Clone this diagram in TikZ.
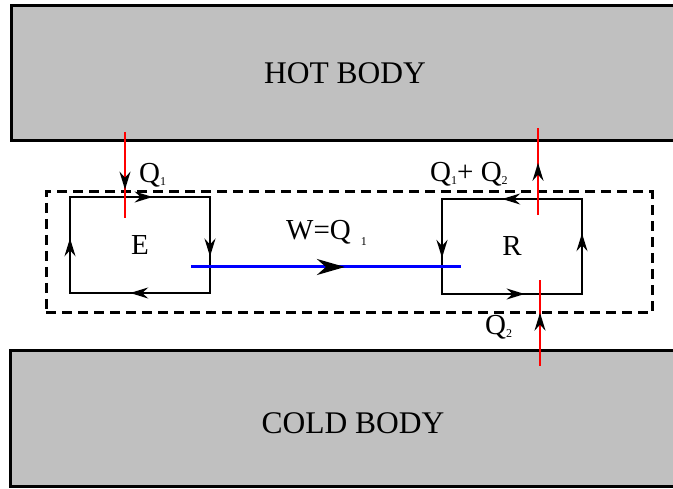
\documentclass[tikz,border=0pt]{standalone}
\usepackage{fontspec}
\setmainfont{Liberation Serif}
\usetikzlibrary{arrows.meta,decorations.markings}
\definecolor{BodyGray}{HTML}{C0C0C0}
\definecolor{HeatRed}{HTML}{FF0000}
\definecolor{WorkBlue}{HTML}{0000FF}
\newcommand{\lowidx}[2][3pt]{\raisebox{-#1}{\fontsize{12}{12}\selectfont #2}}
\tikzset{
  cyclehead/.tip={Stealth[length=18pt,width=11pt,inset=6pt]},
  workhead/.tip={Stealth[length=28pt,width=16pt,inset=9pt]},
  tipat/.style args={#1 with #2}{
    postaction={decorate},
    decoration={markings,mark=at position #1 with {\arrow[black]{#2}}}
  },
  bodybox/.style={
    draw=black,
    fill=BodyGray,
    line width=3pt,
    minimum width=669pt,
    minimum height=135pt,
    inner sep=0pt,
    outer sep=0pt
  },
  systembox/.style={
    draw=black,
    line width=3pt,
    dash pattern=on 10pt off 6pt,
    minimum width=606pt,
    minimum height=121pt,
    inner sep=0pt,
    outer sep=0pt
  },
  enginebox/.style={
    minimum width=140pt,
    minimum height=96pt,
    inner sep=0pt,
    outer sep=0pt,
    font=\fontsize{29}{31}\selectfont
  },
  cycleline/.style={draw=black,line width=2pt,line cap=rect},
  heatline/.style={draw=HeatRed,line width=2pt},
  workline/.style={draw=WorkBlue,line width=3pt}
}

\begin{document}
\begin{tikzpicture}[
  x=1pt,y=-1pt,
  bigtext/.style={font=\fontsize{31.5}{33}\selectfont,inner sep=0pt},
  labeltext/.style={font=\fontsize{29}{31}\selectfont,inner sep=0pt,anchor=base west}
]
  \useasboundingbox (0,0) rectangle (673,489);
  \clip (0,0) rectangle (673,489);

  % reservoirs
  \node[bodybox] (hot) at (345.5,73.5) {};
  \node[bodybox] (cold) at (345,418.5) {};
  \node[bigtext] (hotlabel) at (345,73) {HOT BODY};
  \node[bigtext] (coldlabel) at (353,423) {COLD BODY};

  % system boundary and the two machines
  \node[systembox] (system) at (349,252.5) {};
  \node[enginebox] (E) at (140,245) {E};
  \node[enginebox,minimum height=95pt] (R) at (512,246.5) {R};

  \draw[cycleline,tipat=0.59 with cyclehead] (E.north west) -- (E.north east);
  \draw[cycleline,tipat=0.62 with cyclehead] (E.north east) -- (E.south east);
  \draw[cycleline,tipat=0.57 with cyclehead] (E.south east) -- (E.south west);
  \draw[cycleline,tipat=0.57 with cyclehead] (E.south west) -- (E.north west);

  \draw[cycleline,tipat=0.57 with cyclehead] (R.north east) -- (R.north west);
  \draw[cycleline,tipat=0.62 with cyclehead] (R.north west) -- (R.south west);
  \draw[cycleline,tipat=0.59 with cyclehead] (R.south west) -- (R.south east);
  \draw[cycleline,tipat=0.64 with cyclehead] (R.south east) -- (R.north east);

  % heat and work
  \coordinate (q1in) at (125,132);
  \coordinate (q1end) at (125,218);
  \coordinate (sumstart) at (538,215);
  \coordinate (sumout) at (538,128);
  \coordinate (q2in) at (540,366);
  \coordinate (q2end) at (540,280);
  \coordinate (workstart) at (191,267);
  \coordinate (workend) at (461,267);

  \draw[heatline,tipat=0.67 with cyclehead] (q1in) -- (q1end);
  \draw[heatline,tipat=0.60 with cyclehead] (sumstart) -- (sumout);
  \draw[heatline,tipat=0.62 with cyclehead] (q2in) -- (q2end);
  \draw[workline,tipat=0.57 with workhead] (workstart) -- (workend);

  \node[labeltext] (q1label) at (139,183) {Q\lowidx{1}};
  \node[labeltext] (sumlabel) at (430,182) {Q\lowidx{1}+ Q\lowidx{2}};
  \node[labeltext] (q2label) at (485,335) {Q\lowidx{2}};
  \node[labeltext] (worklabel) at (286,240) {W=Q\hspace{10pt}\lowidx[6pt]{1}};
\end{tikzpicture}
\end{document}
